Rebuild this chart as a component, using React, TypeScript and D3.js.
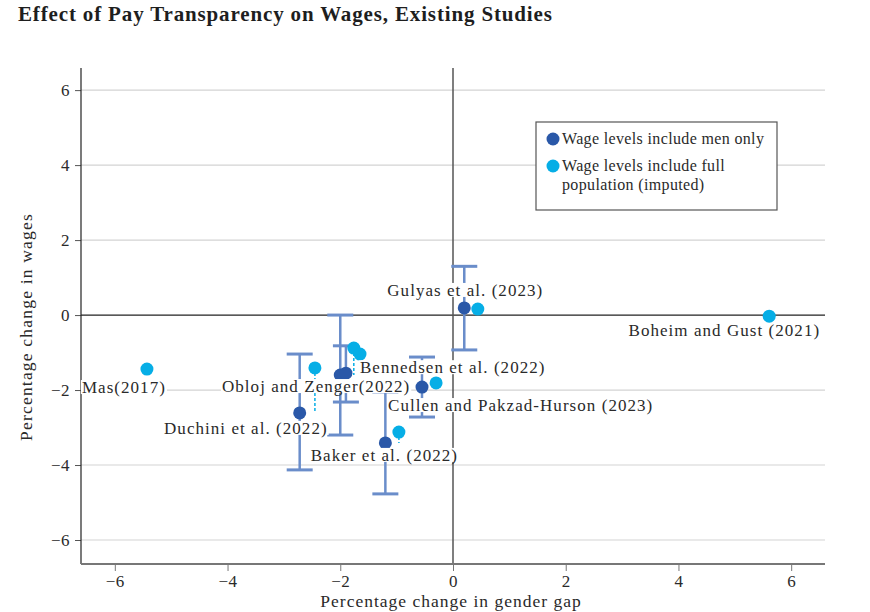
import React, { useEffect, useRef } from 'react';
import * as d3 from 'd3';

// Estimates
const menOnly = [
  { study: 'Duchini', x: -2.72, y: -2.61, lo: -4.13, hi: -1.04 },
  { study: 'Obloj', x: -2.0, y: -1.6, lo: -3.2, hi: 0.0 },
  { study: 'Bennedsen', x: -1.9, y: -1.55, lo: -2.32, hi: -0.82 },
  { study: 'Baker', x: -1.2, y: -3.41, lo: -4.77, hi: -2.05 },
  { study: 'Cullen', x: -0.55, y: -1.92, lo: -2.72, hi: -1.12 },
  { study: 'Gulyas', x: 0.2, y: 0.19, lo: -0.93, hi: 1.3 }
];
const fullPopulation = [
  { study: 'Mas', x: -5.43, y: -1.44 },
  { study: 'Duchini', x: -2.45, y: -1.41 },
  { study: 'Obloj', x: -1.76, y: -0.88 },
  { study: 'Bennedsen', x: -1.65, y: -1.04 },
  { study: 'Baker', x: -0.96, y: -3.12 },
  { study: 'Cullen', x: -0.3, y: -1.81 },
  { study: 'Gulyas', x: 0.44, y: 0.16 },
  { study: 'Boheim', x: 5.61, y: -0.03 }
];
const studyNames: Record<string, string> = {
  Mas: 'Mas(2017)',
  Duchini: 'Duchini et al. (2022)',
  Obloj: 'Obloj and Zenger(2022)',
  Bennedsen: 'Bennedsen et al. (2022)',
  Baker: 'Baker et al. (2022)',
  Cullen: 'Cullen and Pakzad-Hurson (2023)',
  Gulyas: 'Gulyas et al. (2023)',
  Boheim: 'Boheim and Gust (2021)'
};
const xTicks = [-6, -4, -2, 0, 2, 4, 6];
const yTicks = [-6, -4, -2, 0, 2, 4, 6];
const legendItems = [
  { key: 'men', lines: ['Wage levels include men only'] },
  { key: 'full', lines: ['Wage levels include full', 'population (imputed)'] }
];

// label placement: pixel offset from the study's point
const labelLayout: Record<string, { dx: number; dy: number; anchor: string; from: 'men' | 'full' }> = {
  Mas: { dx: 19, dy: 19, anchor: 'end', from: 'full' },
  Duchini: { dx: 28, dy: 16, anchor: 'end', from: 'men' },
  Obloj: { dx: 70, dy: 12, anchor: 'end', from: 'men' },
  Bennedsen: { dx: 14, dy: -5, anchor: 'start', from: 'men' },
  Baker: { dx: -1, dy: 13, anchor: 'middle', from: 'men' },
  Cullen: { dx: -34, dy: 19, anchor: 'start', from: 'men' },
  Gulyas: { dx: 1, dy: -17, anchor: 'middle', from: 'men' },
  Boheim: { dx: 51, dy: 15, anchor: 'end', from: 'full' }
};

const DARK = '#2a58a8';
const LIGHT = '#06aee6';
const BAR = '#6a8dca';
const FONT = '"Liberation Serif", serif';

const App: React.FC = () => {
  const ref = useRef<SVGSVGElement>(null);
  useEffect(() => {
    if (!ref.current) return;
    const svg = d3.select(ref.current);
    svg.selectAll('*').remove();
    const left = 81, right = 825, top = 68, bottom = 564;
    const x = d3.scaleLinear().domain([-6.6, 6.6]).range([left, right]);
    const y = d3.scaleLinear().domain([-6.64, 6.59]).range([bottom, top]);
    const txt = (sel: any, size: number, ls: number) => sel.style('font-family', FONT).style('font-size', `${size}px`).style('letter-spacing', `${ls}px`).attr('fill', '#2a2a2a');

    // title
    txt(svg.append('text').attr('x', 18).attr('y', 21), 21, 0.85).style('font-weight', 'bold').attr('fill', '#1e1e1e').text('Effect of Pay Transparency on Wages, Existing Studies');

    // gridlines
    svg.append('g').selectAll('line').data(yTicks.filter(d => d !== 0)).enter().append('line').attr('x1', left).attr('x2', right).attr('y1', d => y(d)).attr('y2', d => y(d)).attr('stroke', '#d3d3d3').attr('stroke-width', 1.2);

    // zero lines
    svg.append('line').attr('x1', left).attr('x2', right).attr('y1', y(0)).attr('y2', y(0)).attr('stroke', '#222').attr('stroke-width', 1.2);
    svg.append('line').attr('x1', x(0)).attr('x2', x(0)).attr('y1', top).attr('y2', bottom).attr('stroke', '#555').attr('stroke-width', 1.5);

    // axes
    const fmt = (d: any) => d3.format('d')(d as number).replace('-', '\u2212');
    const yAxis = svg.append('g').attr('transform', `translate(${left},0)`).call(d3.axisLeft(y).tickValues(yTicks).tickSize(6).tickPadding(5).tickFormat(fmt));
    yAxis.select('.domain').remove();
    yAxis.selectAll('line').attr('stroke', '#555');
    txt(yAxis.selectAll('text'), 17, 0.5);
    svg.append('line').attr('x1', left).attr('x2', left).attr('y1', top).attr('y2', bottom).attr('stroke', '#222').attr('stroke-width', 1.2);

    const xAxis = svg.append('g').attr('transform', `translate(0,${bottom})`).call(d3.axisBottom(x).tickValues(xTicks).tickSize(7).tickPadding(4).tickFormat(fmt));
    xAxis.select('.domain').remove();
    xAxis.selectAll('line').attr('stroke', '#777');
    txt(xAxis.selectAll('text'), 17, 0.5);
    svg.append('line').attr('x1', left).attr('x2', right).attr('y1', bottom).attr('y2', bottom).attr('stroke', '#777').attr('stroke-width', 2);

    // axis titles
    txt(svg.append('text').attr('x', 451).attr('y', 607).attr('text-anchor', 'middle'), 17.5, 1).text('Percentage change in gender gap');
    txt(svg.append('text').attr('transform', 'translate(32,327) rotate(-90)').attr('text-anchor', 'middle'), 17.5, 1.2).text('Percentage change in wages');

    // error bars
    const bars = svg.append('g').attr('stroke', BAR).attr('stroke-width', 2.5);
    menOnly.forEach(d => {
      bars.append('line').attr('x1', x(d.x)).attr('x2', x(d.x)).attr('y1', y(d.lo)).attr('y2', y(d.hi));
      [d.lo, d.hi].forEach(v => {
        bars.append('line').attr('x1', x(d.x) - 13).attr('x2', x(d.x) + 13).attr('y1', y(v)).attr('y2', y(v)).attr('stroke-width', 3);
      });
    });

    // dashed links from imputed to men-only level
    fullPopulation.forEach(d => {
      const m = menOnly.find(e => e.study === d.study);
      if (!m) return;
      svg.append('line').attr('x1', x(d.x)).attr('x2', x(d.x)).attr('y1', y(d.y)).attr('y2', y(m.y)).attr('stroke', LIGHT).attr('stroke-width', 1.5).attr('stroke-dasharray', '3,2');
    });

    // points
    svg.append('g').selectAll('circle').data(menOnly).enter().append('circle').attr('cx', d => x(d.x)).attr('cy', d => y(d.y)).attr('r', 6.5).attr('fill', DARK);
    svg.append('g').selectAll('circle').data(fullPopulation).enter().append('circle').attr('cx', d => x(d.x)).attr('cy', d => y(d.y)).attr('r', 6.5).attr('fill', LIGHT);

    // labels with white backing
    const labelG = svg.append('g');
    Object.keys(studyNames).forEach(key => {
      const lay = labelLayout[key];
      const src = (lay.from === 'men' ? menOnly : fullPopulation).find(e => e.study === key);
      if (!src) return;
      const g = labelG.append('g');
      const t = txt(g.append('text').attr('x', x(src.x) + lay.dx).attr('y', y(src.y) + lay.dy + 5).attr('text-anchor', lay.anchor), 17, 1.05).text(studyNames[key]);
      const bb = (t.node() as SVGTextElement).getBBox();
      g.insert('rect', 'text').attr('x', bb.x - 1).attr('y', bb.y + 2).attr('width', bb.width + 2).attr('height', bb.height - 5).attr('fill', 'white');
    });

    // legend
    const lg = svg.append('g');
    lg.append('rect').attr('x', 536).attr('y', 122).attr('width', 241).attr('height', 88).attr('fill', 'white').attr('stroke', '#555').attr('stroke-width', 1.2);
    let ly = 139;
    legendItems.forEach(item => {
      lg.append('circle').attr('cx', 553).attr('cy', ly).attr('r', 6.5).attr('fill', item.key === 'men' ? DARK : LIGHT);
      item.lines.forEach((line, i) => {
        txt(lg.append('text').attr('x', 562).attr('y', ly + 5 + i * 19), 16, 0.35).text(line);
      });
      ly += 27;
    });
  }, []);
  return <svg ref={ref} width={870} height={612} style={{ position: 'absolute', left: 0, top: 0, background: 'white' }} />;
};

export default App;
